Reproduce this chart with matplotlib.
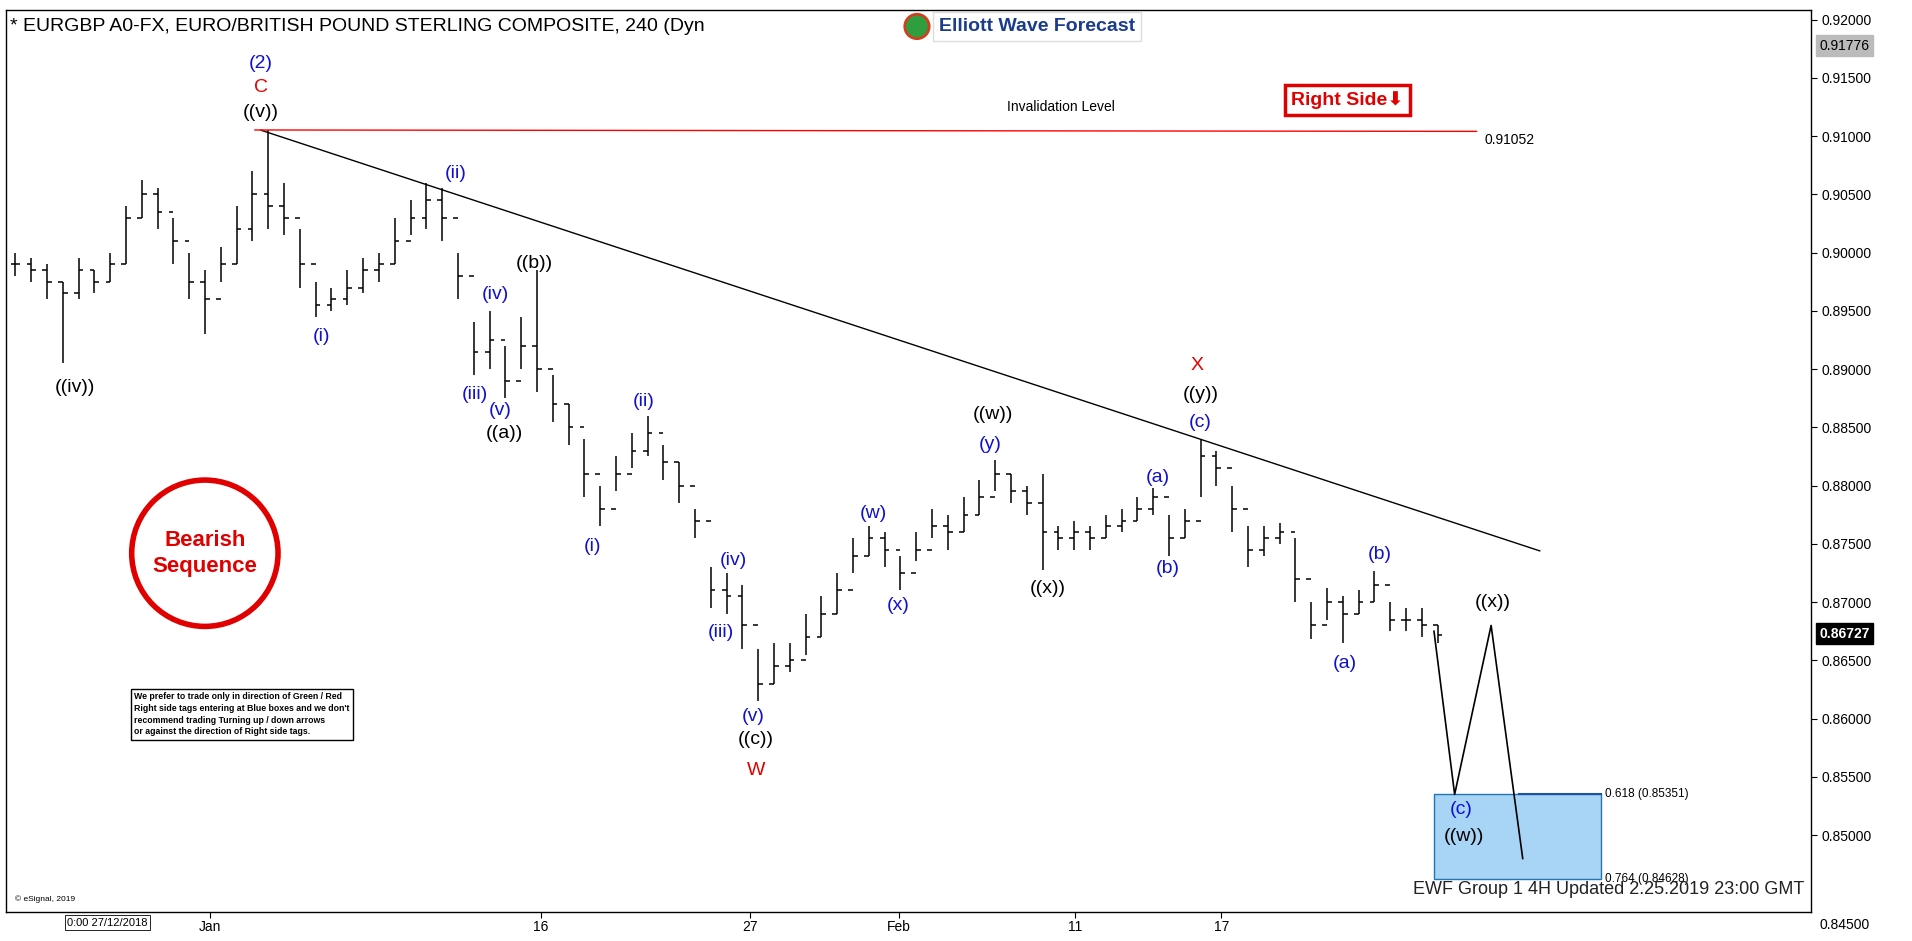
import matplotlib
matplotlib.use('Agg')
import matplotlib.pyplot as plt
from matplotlib.patches import Circle, Rectangle
from matplotlib.transforms import IdentityTransform
import numpy as np

plt.rcParams['font.family'] = ['Liberation Sans', 'DejaVu Sans']

# 4H bars (high, low, close)
highs = [.9000, .8995, .8990, .8975, .8995, .8985, .9000, .9040, .9062, .9055,
         .9030, .9000, .8985, .9005, .9040, .9070, .9105, .9060, .9020, .8975,
         .8970, .8985, .8995, .9000, .9030, .9045, .9060, .9055, .9000, .8940,
         .8950, .8920, .8945, .8985, .8895, .8870, .8840, .8800, .8825, .8845,
         .8860, .8835, .8820, .8780, .8730, .8725, .8715, .8660, .8665, .8665,
         .8690, .8705, .8725, .8755, .8765, .8760, .8740, .8760, .8780, .8775,
         .8790, .8805, .8822, .8810, .8800, .8810, .8765, .8770, .8765, .8775,
         .8780, .8790, .8798, .8775, .8780, .8840, .8830, .8800, .8765, .8765,
         .8768, .8755, .8700, .8712, .8705, .8710, .8727, .8700, .8695, .8695, .8680]
lows = [.8980, .8975, .8960, .8905, .8960, .8965, .8975, .8990, .9030, .9020,
        .8990, .8960, .8930, .8975, .8990, .9010, .9020, .9015, .8970, .8945,
        .8950, .8955, .8965, .8975, .8990, .9015, .9020, .9010, .8960, .8895,
        .8900, .8875, .8900, .8880, .8855, .8835, .8790, .8765, .8795, .8815,
        .8825, .8805, .8785, .8755, .8695, .8690, .8660, .8615, .8630, .8640,
        .8655, .8670, .8690, .8725, .8740, .8730, .8710, .8735, .8755, .8745,
        .8760, .8775, .8795, .8785, .8775, .8728, .8745, .8745, .8745, .8755,
        .8760, .8770, .8775, .8740, .8755, .8790, .8800, .8760, .8730, .8740,
        .8750, .8700, .8668, .8685, .8665, .8690, .8700, .8675, .8675, .8670, .8665]
closes = [.8990, .8985, .8975, .8965, .8985, .8975, .8990, .9030, .9050, .9035,
          .9010, .8975, .8960, .8990, .9020, .9050, .9040, .9030, .8990, .8955,
          .8960, .8970, .8985, .8990, .9010, .9030, .9045, .9030, .8980, .8915,
          .8925, .8890, .8920, .8900, .8870, .8850, .8810, .8780, .8810, .8830,
          .8845, .8820, .8800, .8770, .8710, .8705, .8680, .8630, .8645, .8650,
          .8670, .8690, .8710, .8740, .8755, .8745, .8725, .8745, .8765, .8760,
          .8775, .8790, .8810, .8795, .8785, .8760, .8755, .8760, .8755, .8765,
          .8770, .8780, .8790, .8755, .8770, .8825, .8815, .8780, .8745, .8755,
          .8760, .8720, .8680, .8700, .8690, .8700, .8715, .8685, .8685, .8680, .8672]

# projected path (screen x in reference pixels, price)
proj_x = [1175, 1192, 1222, 1248]
proj_p = [0.8675, 0.8535, 0.8680, 0.8480]

date_ticks = ['Jan', '16', '27', 'Feb', '11', '17']
date_tick_x = [168, 440, 612, 735, 880, 1000]

S = 1912 / 1568
TOP, BOT = 8, 748


def bx(x):
    # reference screen x -> bar index units
    return (x - 8) / 13.0


def py(y):
    # reference screen y -> price
    return 0.92 - (y - 16) / 47.8 * 0.005


fig = plt.figure(figsize=(19.12, 9.41), dpi=100)
ax = fig.add_axes([0.003, 1 - BOT / 772, 1485 / 1568 - 0.003, (BOT - TOP) / 772])
ax.set_xlim(bx(0), bx(1485))
ax.set_ylim(py(BOT), py(TOP))

idx = np.arange(len(closes))
opens = [closes[0]] + closes[:-1]
ax.vlines(idx, lows, highs, color='black', lw=1.1)
ax.hlines(opens, idx - 0.3, idx, color='black', lw=1.1)
ax.hlines(closes, idx, idx + 0.3, color='black', lw=1.1)

ax.plot([bx(x) for x in proj_x], proj_p, color='black', lw=1.2)

# trend line and invalidation
ax.plot([bx(210), bx(1262)], [0.9105, 0.8744], color='black', lw=1.0)
ax.plot([bx(205), bx(1210)], [0.91052, 0.91040], color='red', lw=1.0)
ax.text(bx(868), py(88), 'Invalidation Level', ha='center', va='center', fontsize=10)
ax.text(bx(1237), py(115), '0.91052', ha='center', va='center', fontsize=10)

# blue box
ax.add_patch(Rectangle((bx(1175), 0.84628), bx(1312) - bx(1175), 0.85351 - 0.84628,
                       facecolor='#a8d4f5', edgecolor='#1f77b4', lw=1))
ax.plot([bx(1245), bx(1312)], [0.85351, 0.85351], color='#1f4fa0', lw=1.5)
ax.text(bx(1316), 0.85351, '0.618 (0.85351)', va='center', fontsize=8.5)
ax.text(bx(1316), 0.84628, '0.764 (0.84628)', va='center', fontsize=8.5)

B, K, R = '#1010d0', 'black', '#e00000'
labels = [
    (210, 52, '(2)', B), (210, 72, 'C', R), (210, 92, '((v))', K),
    (57, 318, '((iv))', K), (260, 276, '(i)', B), (370, 142, '(ii)', B),
    (403, 242, '(iv)', B), (386, 324, '(iii)', B), (407, 337, '(v)', B),
    (410, 356, '((a))', K), (435, 216, '((b))', K),
    (483, 448, '(i)', B), (525, 329, '(ii)', B),
    (599, 460, '(iv)', B), (588, 519, '(iii)', B), (615, 588, '(v)', B),
    (617, 607, '((c))', K), (617, 632, 'W', R),
    (714, 421, '(w)', B), (734, 497, '(x)', B), (810, 365, '(y)', B),
    (812, 340, '((w))', K), (857, 483, '((x))', K),
    (948, 392, '(a)', B), (956, 466, '(b)', B), (983, 347, '(c)', B),
    (983, 324, '((y))', K), (980, 300, 'X', R),
    (1130, 455, '(b)', B), (1102, 544, '(a)', B), (1223, 494, '((x))', K),
    (1197, 664, '(c)', B), (1200, 686, '((w))', K),
]
for x, y, t, c in labels:
    ax.text(bx(x), py(y), t, color=c, ha='center', va='center', fontsize=14)

ax.text(bx(1480), py(730), 'EWF Group 1 4H Updated 2.25.2019 23:00 GMT',
        ha='right', va='center', fontsize=13, color='#222222')
ax.text(bx(8), py(738), '© eSignal, 2019', fontsize=6, va='center')

# axes styling
ax.yaxis.tick_right()
yt = np.round(np.arange(0.850, 0.9201, 0.005), 3)
ax.set_yticks(yt)
ax.set_yticklabels(['%.5f' % v for v in yt], fontsize=10)
fig.text(1492 / 1568, 1 - 759 / 772, '0.84500', fontsize=10, va='center')
ax.set_xticks([bx(x) for x in date_tick_x])
ax.set_xticklabels(date_ticks, fontsize=10)
ax.tick_params(axis='x', length=4, pad=2)
ax.tick_params(axis='y', length=4)
for sp in ax.spines.values():
    sp.set_linewidth(1)

# right-side price boxes
for p, fc, tc in [(0.86727, 'black', 'white'), (0.91776, '#bbbbbb', 'black')]:
    ax.annotate('%.5f' % p, xy=(1.0, p), xycoords=('axes fraction', 'data'),
                xytext=(6, 0), textcoords='offset points', va='center', fontsize=10,
                color=tc, fontweight='bold' if fc == 'black' else 'normal',
                bbox=dict(boxstyle='square,pad=0.25', fc=fc, ec=fc))

# title and logo
fig.text(8 / 1568, 1 - 22 / 772, '* EURGBP A0-FX, EURO/BRITISH POUND STERLING COMPOSITE, 240 (Dyn',
         fontsize=14, va='center')
fig.text(770 / 1568, 1 - 22 / 772, 'Elliott Wave Forecast', fontsize=14, fontweight='bold',
         color='#1a3c8c', va='center',
         bbox=dict(boxstyle='square,pad=0.3', fc='white', ec='#dddddd'))
fig.add_artist(Circle((752 * S, (772 - 22) * S), 10 * S, transform=IdentityTransform(),
                      fc='#2e9e3e', ec='#d04020', lw=2))
fig.text(55 / 1568, 1 - 757 / 772, '0:00 27/12/2018', fontsize=8, va='center',
         bbox=dict(boxstyle='square,pad=0.2', fc='white', ec='black', lw=0.6))

# Bearish sequence circle
fig.add_artist(Circle((168 * S, (772 - 454) * S), 60 * S, transform=IdentityTransform(),
                      fc='white', ec='#e00000', lw=4))
fig.text(168 / 1568, 1 - 454 / 772, 'Bearish\nSequence', color='#e00000', fontsize=16,
         fontweight='bold', ha='center', va='center', linespacing=1.3)

# Right Side tag
fig.text(1105 / 1568, 1 - 82 / 772, 'Right Side\u2b07', color='#e00000', fontsize=14,
         fontweight='bold', ha='center', va='center',
         bbox=dict(boxstyle='square,pad=0.3', fc='white', ec='#e00000', lw=2.5))

# disclaimer box
fig.text(110 / 1568, 1 - 586 / 772,
         "We prefer to trade only in direction of Green / Red\n"
         "Right side tags entering at Blue boxes and we don't\n"
         "recommend trading Turning up / down arrows\n"
         "or against the direction of Right side tags.",
         fontsize=6.3, fontweight='bold', va='center', linespacing=1.4,
         bbox=dict(boxstyle='square,pad=0.4', fc='white', ec='black', lw=1))

fig.savefig('out.png', dpi=100)
